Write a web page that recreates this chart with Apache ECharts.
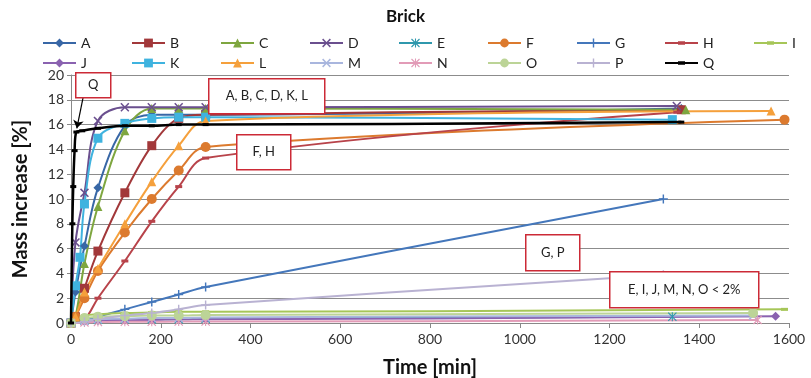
<!DOCTYPE html>
<html><head><meta charset="utf-8">
<script src="https://cdn.jsdelivr.net/npm/echarts@6/dist/echarts.min.js"></script>
<style>html,body{margin:0;padding:0;background:#fff}#c{width:811px;height:378px}</style>
</head><body><div id="c"></div>
<script>
// ---- data (time in min, mass increase in %) ----
const names = ['A','B','C','D','E','F','G','H','I','J','K','L','M','N','O','P','Q'];
const tA = [0,10,30,60,120,180,240,300,1360];   const vA = [0,2.5,6.2,10.9,15.9,16.8,16.8,16.8,17.3];
const tB = [0,10,30,60,120,180,240,300,1360];   const vB = [0,0.5,2.8,5.8,10.5,14.3,16.5,16.8,17.2];
const tC = [0,10,30,60,120,180,240,300,1370];   const vC = [0,0.5,4.8,9.4,15.5,17.3,17.3,17.3,17.2];
const tD = [0,10,30,60,120,180,240,300,1350];   const vD = [0,6.5,10.5,16.3,17.4,17.4,17.4,17.4,17.5];
const tE = [0,30,60,120,180,240,300,1340];      const vE = [0,0.2,0.25,0.3,0.3,0.3,0.35,0.5];
const tF = [0,10,30,60,120,180,240,300,1590];   const vF = [0,0.5,2.0,4.2,7.3,10.0,12.3,14.2,16.4];
const tG = [0,30,60,120,180,240,300,1320];      const vG = [0,0.2,0.5,1.1,1.7,2.3,2.9,10.0];
const tH = [0,30,60,120,180,240,300,1350];      const vH = [0,0.3,2.0,5.0,8.2,11.0,13.3,17.0];
const tI = [0,30,60,120,180,240,300,1590];      const vI = [0,0.6,0.7,0.8,0.85,0.9,0.9,1.1];
const tJ = [0,30,60,120,180,240,300,1570];      const vJ = [0,0.15,0.2,0.25,0.25,0.3,0.3,0.55];
const tK = [0,10,20,30,60,120,180,240,300,1340];const vK = [0,3.0,5.3,9.6,14.9,16.1,16.5,16.6,16.6,16.4];
const tL = [0,10,30,60,120,180,240,300,1560];   const vL = [0,0.5,2.5,4.4,8.0,11.4,14.3,16.3,17.1];
const tM = [0,30,60,120,180,240,300,1520];      const vM = [0,0.2,0.3,0.35,0.4,0.4,0.45,0.6];
const tN = [0,30,60,120,180,240,300,1530];      const vN = [0,0.05,0.08,0.1,0.1,0.12,0.12,0.25];
const tO = [0,30,60,120,180,240,300,1520];      const vO = [0,0.4,0.5,0.55,0.6,0.6,0.65,0.8];
const tP = [0,30,60,120,180,240,300,1320];      const vP = [0,0.1,0.3,0.6,0.8,1.1,1.45,3.9];
const tQ = [0,3,5,8,12,25,60,120,180,240,300,1360]; const vQ = [0,8.0,11.0,13.9,15.4,15.5,15.7,15.9,15.9,16.0,16.0,16.2];
const xTicks = [0,200,400,600,800,1000,1200,1400,1600];
const yTicks = [0,2,4,6,8,10,12,14,16,18,20];
const notes = ['Q','A, B, C, D, K, L','F, H','G, P','E, I, J, M, N, O < 2%'];

const T = {A:tA,B:tB,C:tC,D:tD,E:tE,F:tF,G:tG,H:tH,I:tI,J:tJ,K:tK,L:tL,M:tM,N:tN,O:tO,P:tP,Q:tQ};
const V = {A:vA,B:vB,C:vC,D:vD,E:vE,F:vF,G:vG,H:vH,I:vI,J:vJ,K:vK,L:vL,M:vM,N:vN,O:vO,P:vP,Q:vQ};

// ---- styles ----
const X = 'path://M0,1.2 L1.2,0 L5,3.8 L8.8,0 L10,1.2 L6.2,5 L10,8.8 L8.8,10 L5,6.2 L1.2,10 L0,8.8 L3.8,5 Z';
const PLUS = 'path://M4.2,0 H5.8 V4.2 H10 V5.8 H5.8 V10 H4.2 V5.8 H0 V4.2 H4.2 Z';
const STAR = 'path://M4.4,0 H5.6 V10 H4.4 Z M0,0.9 L0.9,0 L10,9.1 L9.1,10 Z M9.1,0 L10,0.9 L0.9,10 L0,9.1 Z';
const DASH = 'path://M0,0 H10 V4 H0 Z';
// legend icon: line with a short dash marker in the middle (tiny corner specks fix the bounding box)
const DASH_ICON = 'path://M0,0 L0.02,0 L0,0.02 Z M33,11 L32.98,11 L33,10.98 Z M0,4.5 H33 V6.5 H0 Z M13,3.8 H20 V7.2 H13 Z';
const sty = {
  A:{c:'#3867a6',s:'diamond',z:9},
  B:{c:'#a2383a',s:'rect',z:9},
  C:{c:'#7ea63f',s:'triangle',z:9},
  D:{c:'#6a4f8e',s:X,z:9},
  E:{c:'#2f98ad',s:STAR,z:9},
  F:{c:'#dc7a2e',s:'circle',z:10},
  G:{c:'#4477bb',s:PLUS,z:9},
  H:{c:'#b8434a',s:DASH,z:[7,3]},
  I:{c:'#a6c658',s:DASH,z:[7,3]},
  J:{c:'#8a62b0',s:'diamond',z:9},
  K:{c:'#3fb3df',s:'rect',z:9},
  L:{c:'#f5a03c',s:'triangle',z:9},
  M:{c:'#a9b6de',s:X,z:9},
  N:{c:'#e29bb7',s:STAR,z:9},
  O:{c:'#bcd497',s:'circle',z:10},
  P:{c:'#b9b2d2',s:PLUS,z:9},
  Q:{c:'#000000',s:DASH,z:[6,3]}
};

const FONT = 'Lato, "Open Sans", sans-serif';

const series = names.map(n => {
  const st = sty[n];
  const s = {
    name: n, type: 'line', smooth: 0.35,
    data: T[n].map((t,i) => [t, V[n][i]]),
    symbol: st.s, symbolSize: st.z, showAllSymbol: true,
    lineStyle: {color: st.c, width: n==='Q'?2.5:2},
    itemStyle: {color: st.c},
    emphasis: {disabled: true},
    z: n==='Q'?5:2
  };
  if (n === 'Q') {
    s.markLine = {
      silent: true, symbol: ['none','arrow'], symbolSize: 8,
      label: {show:false},
      lineStyle: {color:'#000', width:1.2, type:'solid'},
      data: [[{coord:[27,18.2]},{coord:[13,15.7]}]]
    };
  }
  return s;
});

const legends = names.map((n,i) => {
  const row = i < 9 ? 0 : 1;
  const col = i < 9 ? i : i - 9;
  const item = (sty[n].s === DASH) ? {name:n, icon:DASH_ICON} : n;
  return {
    data: [item], left: 37 + col*89, top: row===0 ? 31 : 51,
    itemWidth: 33, itemHeight: 11, itemGap: 0,
    textStyle: {fontFamily: FONT, fontSize: 14, color: '#222'},
    selectedMode: false
  };
});

const boxes = [
  {x:75, y:72, w:35, h:25, t:notes[0]},
  {x:208, y:78, w:116, h:35, t:notes[1]},
  {x:236, y:134, w:54, h:35, t:notes[2]},
  {x:525, y:234, w:54, h:36, t:notes[3]},
  {x:609, y:271, w:149, h:36, t:notes[4]}
];
const graphic = boxes.map(b => ({
  type:'group', left:b.x, top:b.y, z:100,
  children:[
    {type:'rect', shape:{x:0,y:0,width:b.w,height:b.h}, style:{fill:'#fff', stroke:'#cc2a36', lineWidth:1.5}, z:100},
    {type:'text', x:b.w/2, y:b.h/2, style:{text:b.t, fill:'#222', font:'13px '+FONT, align:'center', verticalAlign:'middle'}, z:101}
  ]
}));

const chart = echarts.init(document.getElementById('c'), null, {renderer:'canvas'});
chart.setOption({
  animation: false,
  backgroundColor: '#fff',
  title: {text:'Brick', left:'center', top:3, textStyle:{fontFamily:FONT, fontSize:17, fontWeight:'bold', color:'#111'}},
  legend: legends,
  grid: {left:71, right:22, top:75, bottom:55, containLabel:false, outerBoundsMode:'none'},
  xAxis: {
    type:'value', min:xTicks[0], max:xTicks[xTicks.length-1], interval:200,
    name:'Time [min]', nameLocation:'middle', nameGap:35,
    nameTextStyle:{fontFamily:FONT, fontSize:20, fontWeight:'bold', color:'#111'},
    axisLine:{show:true, lineStyle:{color:'#888'}},
    axisTick:{show:true, inside:false, length:5, lineStyle:{color:'#888'}},
    axisLabel:{fontFamily:FONT, fontSize:14, color:'#333', margin:9, formatter: v => String(v)},
    splitLine:{show:false}
  },
  yAxis: {
    type:'value', min:yTicks[0], max:yTicks[yTicks.length-1], interval:2,
    name:'Mass increase [%]', nameLocation:'middle', nameGap:40, nameRotate:90,
    nameTextStyle:{fontFamily:FONT, fontSize:20, fontWeight:'bold', color:'#111'},
    axisLine:{show:true, lineStyle:{color:'#888'}},
    axisTick:{show:true, length:4, lineStyle:{color:'#888'}},
    axisLabel:{fontFamily:FONT, fontSize:14, color:'#333', margin:7},
    splitLine:{show:true, lineStyle:{color:'#8c8c8c', width:1}}
  },
  series: series,
  graphic: graphic
});
</script>
</body></html>
